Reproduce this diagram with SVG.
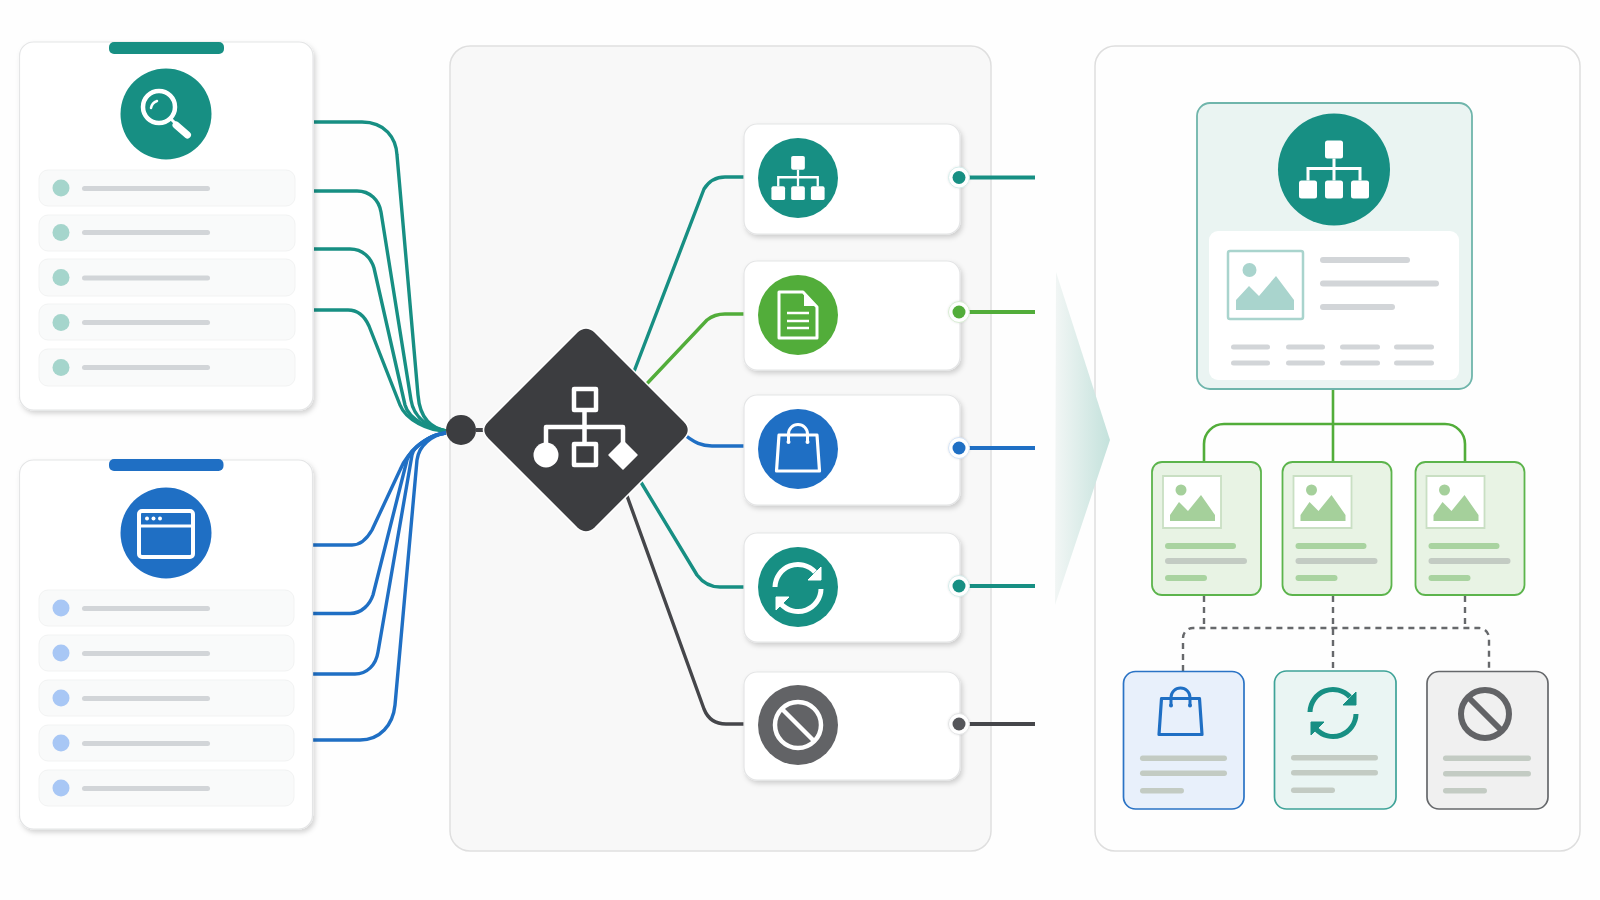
<svg xmlns="http://www.w3.org/2000/svg" width="1600" height="900" viewBox="0 0 1600 900">
<style>
.panel{stroke-width:1.5}
.card{fill:#fff;stroke:#e4e5e6;stroke-width:1.2;filter:url(#sh)}
.row{fill:#f9fafa;stroke:#f2f3f3;stroke-width:1}
.bar{fill:#d2d5d8}
.gbar{fill:#a9d3a0}
.g2bar{fill:#c3cbc3}
.c{fill:none;stroke-width:3.400;stroke-linecap:butt;stroke-linejoin:round}
.teal{stroke:#178f83}.green{stroke:#52ad3a}.blue{stroke:#1f6fc4}.dark{stroke:#45464a}
.port{fill:#fff;stroke-width:1;filter:url(#sh2)}
.w{fill:none;stroke:#fff;stroke-linejoin:round}
.dash{fill:none;stroke:#66686b;stroke-width:2.400;stroke-dasharray:6 5}
</style>
<defs>
<filter id="sh" x="-10%" y="-10%" width="125%" height="125%"><feDropShadow dx="2" dy="3" stdDeviation="2.500" flood-color="#000" flood-opacity=".17"/></filter>
<filter id="sh2" x="-30%" y="-30%" width="160%" height="160%"><feDropShadow dx="0" dy="0" stdDeviation="1" flood-color="#000" flood-opacity=".1"/></filter>
<linearGradient id="arr" x1="0" x2="1" y1="0" y2="0"><stop offset="0" stop-color="#f2f6f5"/><stop offset="1" stop-color="#c4e2dc"/></linearGradient>
<g id="hier"><rect x="-9" y="-29" width="18" height="18" rx="2.500" fill="#fff"/><rect x="-35" y="11" width="18" height="18" rx="2.500" fill="#fff"/><rect x="-9" y="11" width="18" height="18" rx="2.500" fill="#fff"/><rect x="17" y="11" width="18" height="18" rx="2.500" fill="#fff"/><path d="M0-11V11M-26 11V-1H26V11" fill="none" stroke="#fff" stroke-width="3"/></g>
<g id="bag"><path d="M-19-13H19L21.500 23H-21.500Z" fill="none" stroke="currentColor" stroke-width="3.200" stroke-linejoin="round"/><path d="M-9.500-6V-14A9.500 9.500 0 0 1 9.500-14V-6" fill="none" stroke="currentColor" stroke-width="3"/><circle cx="-9.500" cy="-6" r="2" fill="currentColor"/><circle cx="9.500" cy="-6" r="2" fill="currentColor"/></g>
<g id="ref"><path d="M-23-1A23 23 0 0 1 17-16" fill="none" stroke="currentColor" stroke-width="5"/><path d="M23 1A23 23 0 0 1-17 16" fill="none" stroke="currentColor" stroke-width="5"/><path d="M23-21V-8H10Z" fill="currentColor" stroke="currentColor" stroke-width="1" stroke-linejoin="round"/><path d="M-22 9V22L-9 9Z" fill="currentColor" stroke="currentColor" stroke-width="1" stroke-linejoin="round"/></g>
<g id="mtn"><path d="M-1 0 H57 V52 H-1Z" fill="#fff" stroke="#c9dfc3" stroke-width="1.800"/><circle cx="17" cy="14" r="5.500" fill="#a5d09b"/><path d="M6 45V39L15 26L24 35L37 19L51 39V45Z" fill="#a5d09b"/></g>
<g id="gcard"><rect x="0" y="0" width="109" height="133" rx="10" fill="#e8f3e4" stroke="#5cb44c" stroke-width="1.800"/><use href="#mtn" x="12" y="14"/><rect x="13" y="81" width="71" height="6" rx="3" class="gbar"/><rect x="13" y="96" width="82" height="6" rx="3" class="g2bar"/><rect x="13" y="113" width="42" height="6" rx="3" class="gbar"/></g>
</defs>

<rect width="1600" height="900" fill="#fefefe"/>
<rect id="panel-middle" class="panel" x="450" y="46" width="541" height="805" rx="20" fill="#f8f8f8" stroke="#dfdfdf"/>
<rect id="panel-right" class="panel" x="1095" y="46" width="485" height="805" rx="20" fill="#fefefe" stroke="#dedede"/>
<path id="flow-arrow" d="M1056 272L1110 440L1055 605Z" fill="url(#arr)"/>

<g id="connectors">
<g id="in-teal">
<path class="c teal" d="M314 122H362C385 122 396 138 397 155L418 395C420 420 432 428 446 431"/>
<path class="c teal" d="M314 191H357C370 191 379 200 381 212L411 400C414 420 432 428 446 431"/>
<path class="c teal" d="M314 249H350C363 249 371 258 374 268L405 405C409 420 430 429 446 431"/>
<path class="c teal" d="M314 310H348C358 310 365 317 369 326L400 405C406 420 428 431 446 431"/>
</g>
<g id="in-blue">
<path class="c blue" d="M313 545H352C362 545 368 537 372 530L400 470C408 450 430 434 446 433"/>
<path class="c blue" d="M313 613.500H350C362 613.500 370 604 373 595L407 460C411 447 432 434 446 433"/>
<path class="c blue" d="M313 674H355C367 674 376 665 378 652L412 455C414 445 432 434 446 433"/>
<path class="c blue" d="M313 740H360C380 740 393 725 395 705L417 460C419 445 432 435 446 433"/>
</g>
<path class="c dark" d="M476 430H492" style="stroke-width:4"/>
<path class="c teal" d="M630 382L704 189C709 181 716 177 725 177H744"/>
<path class="c green" d="M640 391L707 320C712 316 718 314 725 314H744"/>
<path class="c blue" d="M680 431C695 444 703 446 712 446H744"/>
<path class="c teal" d="M636 474L697 575C703 583 710 587 720 587H744"/>
<path class="c dark" d="M622 482L704 709C708 719 716 724 726 724H744"/>
<path class="c teal" style="stroke-width:4" d="M969 177.500H1035"/>
<path class="c green" style="stroke-width:4" d="M969 312H1035"/>
<path class="c blue" style="stroke-width:4" d="M969 448H1035"/>
<path class="c teal" style="stroke-width:4" d="M969 586H1035"/>
<path class="c dark" style="stroke-width:4" d="M969 724H1035"/>
<path class="c green" style="stroke-width:2.600" d="M1333 390V462M1204 462V444A20 20 0 0 1 1224 424H1445A20 20 0 0 1 1465 444V462"/>
<path class="dash" d="M1204 596V628M1333 596V671M1465 596V628M1183 671V638A10 10 0 0 1 1193 628H1479A10 10 0 0 1 1489 638V671"/>
</g>

<g id="source-search">
<rect class="card" x="19.500" y="42" width="293.500" height="368" rx="14"/>
<rect x="109" y="42" width="115" height="12" rx="5" fill="#178f83"/>
<circle cx="166" cy="114" r="45.500" fill="#178f83"/>
<circle class="w" cx="159" cy="107" r="16" stroke-width="4.500"/>
<path class="w" d="M171 119L177 125" stroke-width="3"/>
<path class="w" d="M176 125L187.500 135" stroke-width="7" stroke-linecap="round"/>
<path class="w" d="M151 108A9 9 0 0 1 157 101" stroke-width="2.500" stroke-linecap="round"/>
<g fill="#a5d5cc">
<rect class="row" x="39" y="170" width="256" height="36" rx="9"/><circle cx="61" cy="188" r="8.500"/><rect class="bar" x="82" y="186" width="128" height="5" rx="2.500"/>
<rect class="row" x="39" y="215" width="256" height="36" rx="9"/><circle cx="61" cy="232.500" r="8.500"/><rect class="bar" x="82" y="230" width="128" height="5" rx="2.500"/>
<rect class="row" x="39" y="259" width="256" height="37" rx="9"/><circle cx="61" cy="277.500" r="8.500"/><rect class="bar" x="82" y="275.500" width="128" height="5" rx="2.500"/>
<rect class="row" x="39" y="304" width="256" height="36" rx="9"/><circle cx="61" cy="322.500" r="8.500"/><rect class="bar" x="82" y="320" width="128" height="5" rx="2.500"/>
<rect class="row" x="39" y="349" width="256" height="37" rx="9"/><circle cx="61" cy="367.500" r="8.500"/><rect class="bar" x="82" y="365" width="128" height="5" rx="2.500"/>
</g>
</g>

<g id="source-window">
<rect class="card" x="19.500" y="460" width="293" height="369" rx="14"/>
<rect x="109" y="459" width="114.500" height="12" rx="5" fill="#1f6fc4"/>
<circle cx="166" cy="533" r="45.500" fill="#1f6fc4"/>
<rect class="w" x="139" y="511" width="54" height="46" rx="3" stroke-width="4"/>
<path class="w" d="M139 526H193" stroke-width="3"/>
<circle cx="147" cy="518.500" r="2" fill="#fff"/><circle cx="153.500" cy="518.500" r="2" fill="#fff"/><circle cx="160" cy="518.500" r="2" fill="#fff"/>
<g fill="#a8c7f5">
<rect class="row" x="39" y="590" width="255" height="36" rx="9"/><circle cx="61" cy="608" r="8.500"/><rect class="bar" x="82" y="606" width="128" height="5" rx="2.500"/>
<rect class="row" x="39" y="635" width="255" height="36" rx="9"/><circle cx="61" cy="653" r="8.500"/><rect class="bar" x="82" y="651" width="128" height="5" rx="2.500"/>
<rect class="row" x="39" y="680" width="255" height="36" rx="9"/><circle cx="61" cy="698" r="8.500"/><rect class="bar" x="82" y="696" width="128" height="5" rx="2.500"/>
<rect class="row" x="39" y="725" width="255" height="36" rx="9"/><circle cx="61" cy="743" r="8.500"/><rect class="bar" x="82" y="741" width="128" height="5" rx="2.500"/>
<rect class="row" x="39" y="770" width="255" height="36" rx="9"/><circle cx="61" cy="788" r="8.500"/><rect class="bar" x="82" y="786" width="128" height="5" rx="2.500"/>
</g>
</g>

<g id="hub">
<circle cx="461" cy="430" r="15" fill="#3c3d40"/>
<path d="M577 332Q586 324 595 332L684 421Q693 430 684 439L595 528Q586 536 577 528L488 439Q479 430 488 421Z" fill="#3c3d40" stroke="#fff" stroke-width="1.500"/>
<rect class="w" x="574" y="389" width="22" height="21" stroke-width="4.500"/>
<rect class="w" x="574" y="444" width="22" height="21" stroke-width="4.500"/>
<path class="w" d="M584.500 412V442M546 445V427H623V445" stroke-width="4.500"/>
<circle cx="546" cy="455" r="12.500" fill="#fff"/>
<path d="M623 441L637 455L623 469L609 455Z" fill="#fff" stroke="#fff" stroke-width="1.500" stroke-linejoin="round"/>
</g>

<g id="step-hierarchy">
<rect class="card" x="744" y="124" width="216" height="110" rx="13"/>
<circle cx="798" cy="178" r="40" fill="#178f83"/>
<use href="#hier" transform="translate(798 178) scale(.76)"/>
<circle class="port" cx="959" cy="177.500" r="10.500" stroke="#d5ecea"/><circle cx="959" cy="177.500" r="6.500" fill="#178f83"/>
</g>
<g id="step-document">
<rect class="card" x="744" y="261" width="216" height="109" rx="13"/>
<circle cx="798" cy="315" r="40" fill="#52ad3a"/>
<path class="w" d="M779 292H803L817 307V338H779Z" stroke-width="3"/>
<path d="M804 292V306H817Z" fill="#fff"/>
<path class="w" d="M787 313H809M787 321H809M787 328H809" stroke-width="2.500"/>
<circle class="port" cx="959" cy="312" r="10.500" stroke="#d8ecd3"/><circle cx="959" cy="312" r="6.500" fill="#52ad3a"/>
</g>
<g id="step-bag">
<rect class="card" x="744" y="395" width="216" height="110" rx="13"/>
<circle cx="798" cy="449" r="40" fill="#1f6fc4"/>
<use href="#bag" x="798" y="448" color="#fff"/>
<circle class="port" cx="959" cy="448" r="10.500" stroke="#d5e3f5"/><circle cx="959" cy="448" r="6.500" fill="#1f6fc4"/>
</g>
<g id="step-refresh">
<rect class="card" x="744" y="533" width="216" height="109" rx="13"/>
<circle cx="798" cy="587" r="40" fill="#178f83"/>
<use href="#ref" x="798" y="588" color="#fff"/>
<circle class="port" cx="959" cy="586" r="10.500" stroke="#d5ecea"/><circle cx="959" cy="586" r="6.500" fill="#178f83"/>
</g>
<g id="step-blocked">
<rect class="card" x="744" y="672" width="216" height="108" rx="13"/>
<circle cx="798" cy="725" r="40" fill="#626366"/>
<circle class="w" cx="798" cy="725" r="23" stroke-width="4.500"/>
<path class="w" d="M782 709L814 741" stroke-width="4.500"/>
<circle class="port" cx="959" cy="724" r="10.500" stroke="#e2e3e4"/><circle cx="959" cy="724" r="6.500" fill="#55565a"/>
</g>

<g id="result-main">
<rect x="1197" y="103" width="275" height="286" rx="13" fill="#eaf4f2" stroke="#6fb5ab" stroke-width="1.800"/>
<circle cx="1334" cy="169.500" r="56" fill="#178f83"/>
<use href="#hier" x="1334" y="169.500"/>
<rect x="1209" y="231" width="250" height="149" rx="9" fill="#fff"/>
<rect x="1228" y="251" width="75" height="68" rx="2" fill="#fff" stroke="#a9d4cd" stroke-width="2.500"/>
<circle cx="1249.500" cy="270" r="7" fill="#a9d4cd"/>
<path d="M1236 310V300L1249 286L1259 296L1276 276L1294 300V310Z" fill="#a9d4cd"/>
<rect class="bar" x="1320" y="257" width="90" height="6" rx="3"/>
<rect class="bar" x="1320" y="280.500" width="119" height="6" rx="3"/>
<rect class="bar" x="1320" y="304" width="75" height="6" rx="3"/>
<rect class="bar" x="1231" y="344.500" width="39" height="5" rx="2.500"/><rect class="bar" x="1286" y="344.500" width="39" height="5" rx="2.500"/><rect class="bar" x="1340" y="344.500" width="40" height="5" rx="2.500"/><rect class="bar" x="1394" y="344.500" width="40" height="5" rx="2.500"/>
<rect class="bar" x="1231" y="360.500" width="39" height="5" rx="2.500"/><rect class="bar" x="1286" y="360.500" width="39" height="5" rx="2.500"/><rect class="bar" x="1340" y="360.500" width="40" height="5" rx="2.500"/><rect class="bar" x="1394" y="360.500" width="40" height="5" rx="2.500"/>
</g>
<use id="result-a" href="#gcard" x="1152" y="462"/>
<use id="result-b" href="#gcard" x="1282.500" y="462"/>
<use id="result-c" href="#gcard" x="1415.500" y="462"/>

<g id="out-bag">
<rect x="1123.500" y="671.500" width="120.500" height="137.500" rx="12" fill="#e8f0fb" stroke="#2a73c5" stroke-width="1.700"/>
<use href="#bag" x="1180.500" y="711.500" color="#1f6fc4"/>
<rect class="g2bar" x="1140" y="755.500" width="87" height="5.500" rx="2.700"/><rect class="g2bar" x="1140" y="770.500" width="87" height="5.500" rx="2.700"/><rect class="g2bar" x="1140" y="788" width="44" height="5.500" rx="2.700"/>
</g>
<g id="out-refresh">
<rect x="1274.500" y="671" width="121.500" height="138" rx="12" fill="#eaf5f3" stroke="#3fa398" stroke-width="1.700"/>
<use href="#ref" x="1333" y="713" color="#178f83"/>
<rect class="g2bar" x="1291" y="755" width="87" height="5.500" rx="2.700"/><rect class="g2bar" x="1291" y="770" width="87" height="5.500" rx="2.700"/><rect class="g2bar" x="1291" y="787.500" width="44" height="5.500" rx="2.700"/>
</g>
<g id="out-blocked">
<rect x="1427" y="671.500" width="121" height="137.500" rx="12" fill="#f0f0f0" stroke="#66686b" stroke-width="1.700"/>
<circle cx="1485" cy="714" r="24" fill="none" stroke="#626366" stroke-width="6"/>
<path d="M1468 697L1502 731" stroke="#626366" stroke-width="6" fill="none"/>
<rect class="g2bar" x="1443" y="755.500" width="88" height="5.500" rx="2.700"/><rect class="g2bar" x="1443" y="771" width="88" height="5.500" rx="2.700"/><rect class="g2bar" x="1443" y="788" width="44" height="5.500" rx="2.700"/>
</g>
</svg>
